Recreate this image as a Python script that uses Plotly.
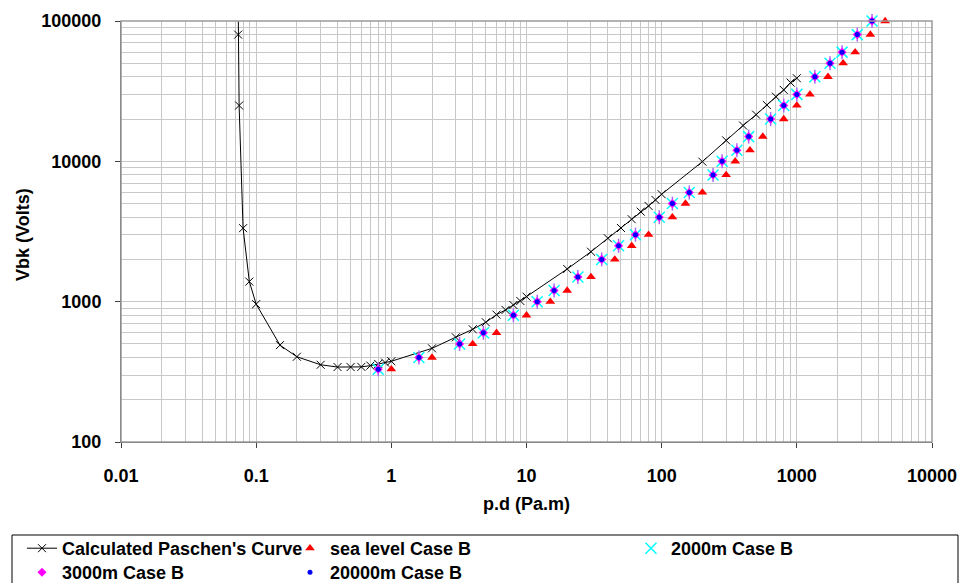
import plotly.graph_objects as go

# calculated Paschen curve
curve_pd = [0.0733, 0.0736, 0.0748, 0.080, 0.089, 0.1, 0.15, 0.2, 0.3, 0.4, 0.5,
            0.6, 0.7, 0.8, 0.9, 1, 2, 3, 4, 5, 6, 7, 8, 9, 10, 20, 30, 40, 50,
            60, 70, 80, 90, 100, 200, 300, 400, 500, 600, 700, 800, 900, 1000]
curve_v = [200000, 80000, 25000, 3340, 1390, 960, 490, 405, 355, 342, 342,
           343, 350, 360, 368, 376, 465, 557, 636, 713, 808, 873, 947, 1012,
           1086, 1710, 2270, 2830, 3350, 3870, 4380, 4810, 5310, 5830, 9950,
           14100, 18000, 21500, 25200, 28900, 32300, 36400, 39100]

# measured breakdown voltages
vbk = [330, 400, 500, 600, 800, 1000, 1200, 1500, 2000, 2500, 3000, 4000, 5000,
       6000, 8000, 10000, 12000, 15000, 20000, 25000, 30000, 40000, 50000,
       60000, 80000, 100000]
sea_level_pd = [1, 2, 4, 6, 10, 15, 20, 30, 45, 60, 80, 120, 150, 200, 300, 350,
                450, 560, 800, 1000, 1250, 1700, 2200, 2700, 3500, 4500]
alt2000_pd = [0.8, 1.6, 3.2, 4.8, 8, 12, 16, 24, 36, 48, 64, 96, 120, 160, 240,
              280, 360, 440, 640, 800, 1000, 1360, 1760, 2160, 2800, 3600]
alt3000_pd = [0.8, 1.6, 3.2, 4.8, 8, 12, 16, 24, 36, 48, 64, 96, 120, 160, 240,
              280, 360, 440, 640, 800, 1000, 1360, 1760, 2160, 2800, 3600]
alt20000_pd = [0.8, 1.6, 3.2, 4.8, 8, 12, 16, 24, 36, 48, 64, 96, 120, 160, 240,
               280, 360, 440, 640, 800, 1000, 1360, 1760, 2160, 2800, 3600]

x_ticks = [0.01, 0.1, 1, 10, 100, 1000, 10000]
x_labels = ['0.01', '0.1', '1', '10', '100', '1000', '10000']
y_ticks = [100, 1000, 10000, 100000]
y_labels = ['100', '1000', '10000', '100000']

FONT = 'Liberation Sans, Arial, sans-serif'
W, H = 962, 583
# plot area in pixels
L, R, T, B = 121, 932, 21, 442


def px_x(p):
    return (p - L) / (R - L)


def px_y(p):
    return (B - p) / (B - T)


fig = go.Figure()
fig.add_trace(go.Scatter(
    x=curve_pd, y=curve_v, mode='lines+markers',
    name="Calculated Paschen's Curve", legend='legend',
    line={'color': 'black', 'width': 1},
    marker={'symbol': 'x-thin-open', 'size': 8, 'color': 'black',
            'line': {'width': 1, 'color': 'black'}}))
fig.add_trace(go.Scatter(
    x=sea_level_pd, y=vbk, mode='markers', name='sea level Case B',
    legend='legend2', cliponaxis=False,
    marker={'symbol': 'triangle-up', 'size': 8.5, 'color': '#ff0000'}))
fig.add_trace(go.Scatter(
    x=alt2000_pd, y=vbk, mode='markers', name='2000m Case B',
    legend='legend3', cliponaxis=False,
    marker={'symbol': 'x-thin-open', 'size': 11, 'color': '#00ffff',
            'line': {'width': 1.5, 'color': '#00ffff'}}))
fig.add_trace(go.Scatter(
    x=alt2000_pd, y=vbk, mode='markers', showlegend=False, hoverinfo='skip',
    cliponaxis=False,
    marker={'symbol': 'line-ns-open', 'size': 10,
            'line': {'width': 1.5, 'color': '#00ffff'}}))
fig.add_trace(go.Scatter(
    x=alt3000_pd, y=vbk, mode='markers', name='3000m Case B',
    legend='legend4', cliponaxis=False,
    marker={'symbol': 'diamond', 'size': 7, 'color': '#ff00ff'}))
fig.add_trace(go.Scatter(
    x=alt20000_pd, y=vbk, mode='markers', name='20000m Case B',
    legend='legend5', cliponaxis=False,
    marker={'symbol': 'circle', 'size': 5, 'color': '#0000ff'}))

grid = '#c8c8c8'
axis_font = {'family': FONT, 'size': 18, 'color': 'black', 'weight': 'bold'}
fig.update_xaxes(
    type='log', range=[-2, 4], tickvals=x_ticks, ticktext=x_labels,
    tickfont=axis_font, ticks='outside', ticklen=5, tickcolor='#404040',
    ticklabelstandoff=12,
    showline=True, linecolor='#595959', linewidth=1,
    showgrid=True, gridcolor=grid, gridwidth=1, zeroline=False,
    minor={'dtick': 'D1', 'showgrid': True, 'gridcolor': grid, 'gridwidth': 1},
    title={'text': 'p.d (Pa.m)', 'font': axis_font, 'standoff': 12})
fig.update_yaxes(
    type='log', range=[2, 5], tickvals=y_ticks, ticktext=y_labels,
    tickfont=axis_font, ticks='outside', ticklen=5, tickcolor='#404040',
    ticklabelstandoff=10,
    showline=True, linecolor='#595959', linewidth=1,
    showgrid=True, gridcolor=grid, gridwidth=1, zeroline=False,
    minor={'dtick': 'D1', 'showgrid': True, 'gridcolor': grid, 'gridwidth': 1})

# y axis title placed as a rotated annotation
fig.add_annotation(text='Vbk (Volts)', textangle=-90, showarrow=False,
                   xref='paper', yref='paper', x=px_x(23), y=px_y(235),
                   xanchor='center', yanchor='middle', font=axis_font)

leg_font = {'family': FONT, 'size': 18, 'color': 'black', 'weight': 'bold'}
leg_common = {'font': leg_font, 'bgcolor': 'rgba(0,0,0,0)', 'borderwidth': 0,
              'xanchor': 'left', 'yanchor': 'top', 'orientation': 'v'}
row1, row2 = 530, 554
fig.update_layout(
    legend={**leg_common, 'x': px_x(22), 'y': px_y(row1)},
    legend2={**leg_common, 'x': px_x(290), 'y': px_y(row1)},
    legend3={**leg_common, 'x': px_x(631), 'y': px_y(row1)},
    legend4={**leg_common, 'x': px_x(22), 'y': px_y(row2)},
    legend5={**leg_common, 'x': px_x(290), 'y': px_y(row2)},
)

# top/right frame of the plot area and legend box
fig.add_shape(type='rect', xref='paper', yref='paper', x0=0, x1=1, y0=0, y1=1,
              line={'color': '#9a9a9a', 'width': 1.5}, layer='above')
fig.add_shape(type='rect', xref='paper', yref='paper',
              x0=px_x(12), x1=px_x(958), y0=px_y(535), y1=px_y(600),
              line={'color': 'black', 'width': 1})

fig.update_layout(
    width=W, height=H, autosize=False,
    margin={'l': L, 'r': W - R, 't': T, 'b': H - B, 'pad': 0,
            'autoexpand': False},
    plot_bgcolor='white', paper_bgcolor='white',
    font={'family': FONT},
)
fig.update_xaxes(automargin=False)
fig.update_yaxes(automargin=False)

# drop the default page margin so the figure sits at the window corner
fig.write_html('out.html', config={'displayModeBar': False},
               post_script="document.body.style.margin='0';"
                           "document.body.style.overflow='hidden';")
